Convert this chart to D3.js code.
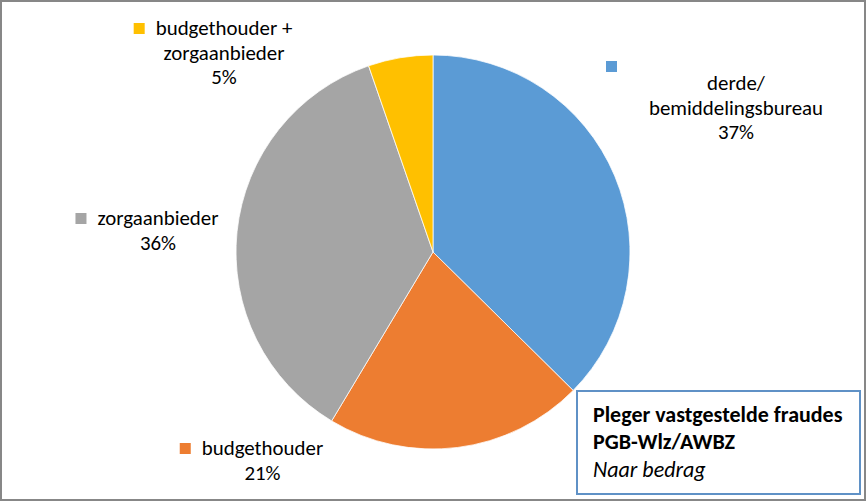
<!DOCTYPE html>
<html><head><meta charset="utf-8">
<script src="https://cdn.jsdelivr.net/npm/d3@7"></script>
<style>
html,body{margin:0;padding:0;background:#fff;}
svg{display:block;}
text{font-family:Calibri,Carlito,"Liberation Sans",Arial,sans-serif;fill:#000;}
</style></head>
<body>
<svg id="chart" width="868" height="502"></svg>
<script>
// ---- data ----
const categories = ["derde/ bemiddelingsbureau", "budgethouder", "zorgaanbieder", "budgethouder + zorgaanbieder"];
const labelLines = [["derde/", "bemiddelingsbureau"], ["budgethouder"], ["zorgaanbieder"], ["budgethouder +", "zorgaanbieder"]];
const values = [37.4, 21.2, 36.1, 5.3];
const colors = ["#5b9bd5", "#ed7d31", "#a5a5a5", "#ffc000"];
const titleLines = ["Pleger vastgestelde fraudes", "PGB-Wlz/AWBZ", "Naar bedrag"];

// ---- layout (positions, not data) ----
const W = 868, H = 502;
const cx = 433, cy = 252, R = 197;
const labelPos = [ // center x, first baseline y
  {x: 736, y: 90, marker: [606, 61]},
  {x: 262.5, y: 455},
  {x: 158, y: 225},
  {x: 224, y: 35}
];
const lineH = 24.5;
const fontSize = 20.9;

const svg = d3.select("#chart");
svg.append("rect").attr("x", 0).attr("y", 0).attr("width", W).attr("height", H).attr("fill", "#fff");

const total = d3.sum(values);
const pie = d3.pie().sort(null).value(d => d)(values);
const arc = d3.arc().innerRadius(0).outerRadius(R);

const g = svg.append("g").attr("transform", `translate(${cx},${cy})`);
g.selectAll("path").data(pie).join("path")
  .attr("d", arc)
  .attr("fill", (d, i) => colors[i])
  .attr("stroke", "#fff")
  .attr("stroke-width", 0.75);

const fmt = v => Math.round(v / total * 100) + "%";

labelPos.forEach((p, i) => {
  const lines = labelLines[i].concat([fmt(values[i])]);
  const t = svg.append("text")
    .attr("text-anchor", "middle")
    .style("font-size", fontSize + "px");
  lines.forEach((ln, k) => {
    t.append("tspan").attr("x", p.x).attr("y", p.y + k * lineH).text(ln);
  });
  let mx, my;
  if (p.marker) { mx = p.marker[0]; my = p.marker[1]; }
  else {
    const first = t.select("tspan").node();
    const bb = first.getBBox();
    mx = bb.x - 11 - 11;
    my = p.y - 12;
  }
  svg.append("rect").attr("x", mx).attr("y", my).attr("width", 11).attr("height", 11).attr("fill", colors[i]);
});

// title box
svg.append("rect").attr("x", 577).attr("y", 391).attr("width", 283).attr("height", 103)
  .attr("fill", "#fff").attr("stroke", "#5f91c6").attr("stroke-width", 2);
const tt = svg.append("text").style("font-size", "22px");
titleLines.forEach((ln, k) => {
  tt.append("tspan").attr("x", 593).attr("y", 421.5 + k * 27.5)
    .style("font-weight", k < 2 ? "bold" : "normal")
    .style("font-style", k === 2 ? "italic" : "normal")
    .text(ln);
});

// outer border
svg.append("rect").attr("x", 1).attr("y", 1).attr("width", 864).attr("height", 499)
  .attr("fill", "none").attr("stroke", "#878787").attr("stroke-width", 2);
</script>
</body></html>
